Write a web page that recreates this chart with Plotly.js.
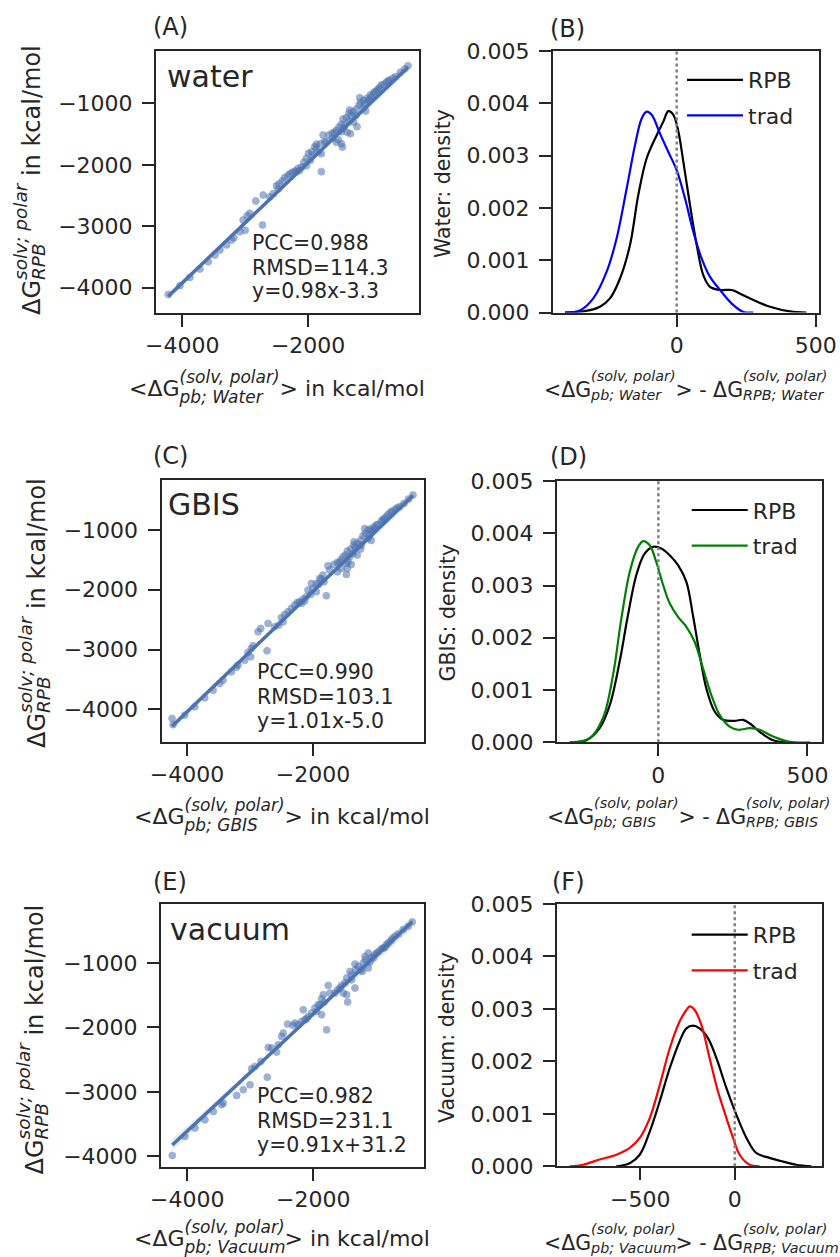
<!DOCTYPE html>
<html>
<head>
<meta charset="utf-8">
<script src="https://cdn.plot.ly/plotly-3.0.1.min.js"></script>
<style>html,body{margin:0;padding:0;background:#fff;}#chart{width:840px;height:1257px;}</style>
</head>
<body>
<div id="chart"></div>
<script>
// ---------------- data ----------------
const waterX = [-413,-466,-535,-609,-731,-799,-863,-905,-958,-1011,-1064,-1117,-1164,-1191,-1101,-1043,-1127,-1085,-1233,-1286,-1339,-1313,-1392,-1445,-1350,-1276,-1223,-1471,-1508,-1551,-1434,-1381,-1328,-1614,-1667,-1762,-1614,-1551,-1471,-1455,-1519,-1709,-1805,-1868,-1868,-1836,-1789,-1921,-1995,-2027,-1963,-2069,-2027,-2101,-2133,-2185,-2249,-2291,-2323,-2376,-1789,-2408,-2460,-2503,-2476,-2556,-2609,-2714,-2831,-2926,-2968,-3032,-2725,-3000,-3085,-3180,-3217,-3296,-3402,-3481,-3587,-3720,-3878,-4037,-4222,-837,-889,-942,-995,-1180,-1244,-1418,-1577,-1736,-1895,-1947,-2159,-2212,-704,-651,-757,-1022,-1350,-1471];
const waterY = [-384,-438,-492,-563,-633,-688,-742,-796,-834,-862,-916,-948,-981,-1024,-1014,-959,-1068,-1122,-1090,-1133,-1106,-1198,-1231,-1252,-1285,-1307,-1377,-1339,-1383,-1437,-1405,-1470,-1491,-1481,-1513,-1513,-1567,-1633,-1654,-1709,-1589,-1622,-1654,-1665,-1730,-1785,-1817,-1839,-1812,-1893,-1926,-1958,-2013,-2034,-2089,-2110,-2121,-2143,-2176,-2208,-2110,-2262,-2306,-2338,-2393,-2469,-2523,-2491,-2588,-2789,-2827,-2898,-2979,-3066,-3088,-3186,-3224,-3305,-3386,-3468,-3577,-3696,-3832,-3967,-4109,-699,-764,-807,-889,-905,-1198,-1350,-1470,-1622,-1703,-1785,-2056,-2100,-617,-590,-655,-943,-1160,-1459];

const gbisX = [-413,-482,-556,-625,-747,-810,-874,-916,-969,-1032,-1085,-1127,-1170,-1207,-1101,-1064,-1127,-1075,-1244,-1297,-1350,-1328,-1403,-1455,-1365,-1297,-1244,-1487,-1524,-1561,-1445,-1392,-1455,-1614,-1667,-1762,-1614,-1551,-1471,-1842,-1868,-1826,-1910,-2027,-2000,-1947,-2080,-2037,-2106,-1789,-2133,-2185,-2249,-2291,-2344,-2397,-2450,-2503,-2476,-2545,-2609,-2714,-2831,-2873,-2952,-2979,-3032,-2730,-2990,-3085,-3191,-3217,-3296,-3429,-3481,-3587,-3720,-3878,-4037,-4238,-4222,-837,-889,-995,-1180,-1233,-1418,-1577,-1736,-1895,-1947,-2159,-2212,-694,-662,-768,-1022,-1350,-1471];
const gbisY = [-414,-481,-554,-609,-682,-738,-805,-849,-905,-944,-983,-1000,-1056,-1095,-1084,-1028,-1140,-1173,-1168,-1224,-1251,-1296,-1318,-1352,-1391,-1419,-1318,-1419,-1447,-1503,-1531,-1575,-1642,-1542,-1575,-1598,-1698,-1642,-1743,-1754,-1821,-1866,-1910,-1893,-1977,-2033,-2005,-2078,-2117,-2100,-2189,-2228,-2212,-2256,-2312,-2368,-2413,-2469,-2536,-2591,-2619,-2563,-2647,-2703,-2937,-2982,-3049,-3021,-3122,-3178,-3261,-3295,-3373,-3513,-3568,-3680,-3809,-3959,-4099,-4155,-4255,-777,-833,-916,-972,-1251,-1447,-1542,-1670,-1810,-1893,-2156,-2201,-654,-626,-704,-983,-1196,-1558];

const vacX = [-429,-493,-572,-651,-747,-810,-863,-916,-958,-1022,-1075,-1127,-1170,-1207,-1101,-1127,-1223,-1286,-1339,-1328,-1418,-1471,-1392,-1339,-1498,-1551,-1762,-1614,-1524,-1471,-1455,-1657,-1842,-1868,-1826,-1868,-1921,-1974,-2027,-2080,-2159,-2106,-2185,-2291,-2318,-2408,-1789,-2476,-2503,-2556,-2582,-2714,-2831,-2926,-2979,-2730,-3005,-3111,-3217,-3429,-3455,-3587,-3720,-3878,-4037,-4238,-837,-889,-995,-1180,-1244,-1577,-1736,-1895,-1947,-2133,-704,-768,-1048,-1392,-2238,-2662];
const vacY = [-364,-431,-483,-550,-622,-690,-757,-778,-819,-871,-912,-845,-949,-1000,-985,-1078,-1130,-1052,-1016,-1104,-1130,-1233,-1259,-1389,-1311,-1347,-1347,-1414,-1466,-1492,-1606,-1466,-1492,-1554,-1606,-1803,-1647,-1699,-1777,-1829,-1725,-1865,-1906,-1932,-1968,-1948,-2036,-2087,-2139,-2268,-2382,-2310,-2527,-2605,-2641,-2771,-2890,-2967,-3055,-3174,-3200,-3304,-3433,-3562,-3692,-3987,-716,-767,-845,-897,-1104,-1389,-1466,-1647,-1751,-1880,-586,-654,-923,-1181,-1958,-2320];

// regression lines: [slope, intercept]; confidence half-width at [low end, middle, high end]
const fitWater = [0.98, -3.3];
const fitGbis = [1.01, -5.0];
const fitVac = [0.91, 31.2];
const ciHalfWater = [60, 12, 30];
const ciHalfGbis = [60, 12, 30];
const ciHalfVac = [90, 20, 45];
const statsWater = ['PCC=0.988', 'RMSD=114.3', 'y=0.98x-3.3'];
const statsGbis = ['PCC=0.990', 'RMSD=103.1', 'y=1.01x-5.0'];
const statsVac = ['PCC=0.982', 'RMSD=231.1', 'y=0.91x+31.2'];

// KDE curves (density)
const kdeWaterRpbX = [-402,-336,-276,-240,-204,-168,-138,-108,-72,-48,-30,-12,6,24,48,72,96,120,156,198,228,276,336,408,467];
const kdeWaterRpbY = [0,0.00002,0.00011,0.00027,0.00065,0.00129,0.00225,0.00295,0.00339,0.00365,0.00385,0.00378,0.00346,0.00288,0.00205,0.00129,0.00071,0.00049,0.00043,0.00043,0.00036,0.00024,0.00011,0.00002,0];
const kdeWaterTradX = [-402,-348,-300,-252,-216,-180,-150,-126,-108,-90,-60,-30,0,30,60,90,120,156,198,240,276];
const kdeWaterTradY = [0,0.00004,0.00027,0.00078,0.00142,0.00237,0.0032,0.00371,0.00384,0.00378,0.00342,0.00307,0.00272,0.00218,0.00154,0.00103,0.00068,0.00043,0.00017,0.00001,0];

const kdeGbisRpbX = [-297,-241,-197,-163,-130,-102,-74,-46,-18,10,38,66,94,116,139,161,189,217,256,284,307,340,385,430];
const kdeGbisRpbY = [0,0.00004,0.00027,0.00071,0.00154,0.00243,0.0032,0.00361,0.00374,0.00371,0.00358,0.00339,0.00307,0.00243,0.00167,0.00103,0.00059,0.00043,0.00041,0.00043,0.00036,0.0002,0.00004,0];
const kdeGbisTradX = [-297,-230,-186,-152,-124,-96,-68,-51,-29,-7,16,38,66,94,122,150,178,206,239,268,307,340,385,441,508];
const kdeGbisTradY = [0,0.00008,0.00046,0.00129,0.00237,0.00326,0.00374,0.00385,0.00377,0.00345,0.00301,0.00266,0.0024,0.00221,0.00192,0.00141,0.0009,0.00052,0.0003,0.00024,0.00027,0.00024,0.00011,0.00001,0];

const kdeVacRpbX = [-627,-556,-503,-450,-397,-344,-292,-256,-221,-186,-141,-97,-44,9,62,115,185,256,326,406];
const kdeVacRpbY = [0,0.00006,0.00022,0.00066,0.00124,0.00187,0.00238,0.00263,0.00268,0.00263,0.00244,0.00206,0.00149,0.00098,0.00054,0.00025,0.00016,0.00009,0.00003,0];
const kdeVacTradX = [-874,-803,-715,-627,-556,-503,-450,-397,-344,-292,-256,-238,-212,-177,-133,-89,-44,-9,26,79,132];
const kdeVacTradY = [0,0.00003,0.00013,0.00022,0.00035,0.00054,0.00092,0.00155,0.00225,0.00276,0.00298,0.00305,0.00298,0.0027,0.00206,0.00143,0.00092,0.00054,0.00022,0.00003,0];

const legendNames = ['RPB', 'trad'];
const tradColors = ['#0000ff', '#008000', '#ff0000'];

// ---------------- layout helpers ----------------
const W = 840, H = 1257;
const FONT = 'DejaVu Sans, sans-serif';
const TXT = '#262626';
const PT = '#4c72b0';
const px = v => v / W;
const py = v => 1 - v / H;
const domX = (a, b) => [a / W, b / W];
const domY = (top, bottom) => [1 - bottom / H, 1 - top / H];

const axBase = (isY) => ({
  showline: true, mirror: true, linecolor: TXT, linewidth: 2,
  ticks: 'outside', ticklen: 12, tickwidth: 2, tickcolor: TXT,
  ticklabelstandoff: isY ? 5 : 0,
  showgrid: false, zeroline: false,
  tickfont: {family: FONT, size: 22, color: TXT}
});

function scatterTraces(xs, ys, fit, ci, xa, ya) {
  const xmin = Math.min(...xs), xmax = Math.max(...xs), xmid = (xmin + xmax) / 2;
  const f = x => fit[0] * x + fit[1];
  const bx = [xmin, xmid, xmax, xmax, xmid, xmin];
  const by = [f(xmin) + ci[0], f(xmid) + ci[1], f(xmax) + ci[2], f(xmax) - ci[2], f(xmid) - ci[1], f(xmin) - ci[0]];
  return [
    {type: 'scatter', mode: 'markers', x: xs, y: ys, xaxis: xa, yaxis: ya, showlegend: false,
     marker: {color: PT, size: 7, opacity: 0.55, line: {width: 0.8, color: PT}}, hoverinfo: 'skip'},
    {type: 'scatter', mode: 'lines', x: bx, y: by, xaxis: xa, yaxis: ya, showlegend: false,
     fill: 'toself', fillcolor: 'rgba(76,114,176,0.15)', line: {width: 0, shape: 'spline'}, hoverinfo: 'skip'},
    {type: 'scatter', mode: 'lines', x: [xmin, xmax], y: [f(xmin), f(xmax)],
     xaxis: xa, yaxis: ya, showlegend: false, line: {color: PT, width: 3.5}, hoverinfo: 'skip'}
  ];
}
function kdeTraces(rx, ry, tx, ty, col, xa, ya, leg) {
  return [
    {type: 'scatter', mode: 'lines', x: rx, y: ry, xaxis: xa, yaxis: ya, name: legendNames[0],
     legend: leg, legendgroup: leg + 'a', line: {color: '#000000', width: 2.2, shape: 'spline', smoothing: 1}},
    {type: 'scatter', mode: 'lines', x: tx, y: ty, xaxis: xa, yaxis: ya, name: legendNames[1],
     legend: leg, legendgroup: leg + 'b', line: {color: col, width: 2.2, shape: 'spline', smoothing: 1}}
  ];
}

const data = [].concat(
  scatterTraces(waterX, waterY, fitWater, ciHalfWater, 'x', 'y'),
  kdeTraces(kdeWaterRpbX, kdeWaterRpbY, kdeWaterTradX, kdeWaterTradY, tradColors[0], 'x2', 'y2', 'legend'),
  scatterTraces(gbisX, gbisY, fitGbis, ciHalfGbis, 'x3', 'y3'),
  kdeTraces(kdeGbisRpbX, kdeGbisRpbY, kdeGbisTradX, kdeGbisTradY, tradColors[1], 'x4', 'y4', 'legend2'),
  scatterTraces(vacX, vacY, fitVac, ciHalfVac, 'x5', 'y5'),
  kdeTraces(kdeVacRpbX, kdeVacRpbY, kdeVacTradX, kdeVacTradY, tradColors[2], 'x6', 'y6', 'legend3')
);

// ---------------- annotations ----------------
const anns = [];
function ann(text, x, y, size, opts) {
  anns.push(Object.assign({text: text, xref: 'paper', yref: 'paper', x: px(x), y: py(y),
    xanchor: 'left', yanchor: 'middle', showarrow: false,
    font: {family: FONT, size: size, color: TXT}}, opts || {}));
}
// stacked super/subscripts: one annotation carries the superscript, a second one aligned with it
// carries the subscript (leading text kept invisible so both start at the same x)
const CLR = 'color:rgba(0,0,0,0)';
const HID = s => `<span style="${CLR}">${s}</span>`;
const SUPS = (s, p, up) => `<sup><span style="font-size:${p}px;baseline-shift:${up}px"><i>${s}</i></span></sup>`;
const SUBS = (s, p, dn) => `<sub><span style="font-size:${p}px;baseline-shift:${-dn}px"><i>${s}</i></span></sub>`;
const HSUPS = (p, up) => `<sup><span style="font-size:${p}px;baseline-shift:${up}px;${CLR}">x</span></sup>`;
const HSUBS = (p, dn) => `<sub><span style="font-size:${p}px;baseline-shift:${-dn}px;${CLR}">x</span></sub>`;
const KUP = 7, KDN = -1;
const SUP7 = s => `<sup><span style="baseline-shift:${KUP}px"><i>${s}</i></span></sup>`;
const SUB7 = s => `<sub><span style="baseline-shift:${-KDN}px"><i>${s}</i></span></sub>`;
const HSUP7 = s => `<sup><span style="baseline-shift:${KUP}px;${CLR}"><i>${s}</i></span></sup>`;
const HSUB7 = `<sub><span style="baseline-shift:${-KDN}px;${CLR}">x</span></sub>`;

// panel letters
[['(A)',151,27.4],['(B)',548,29],['(C)',151,455.7],['(D)',548,457.4],['(E)',151,882.4],['(F)',549.7,882.4]]
  .forEach(p => ann(p[0], p[1], p[2], 24));
// in-panel labels
ann('water', 164.7, 76.3, 30);
ann('GBIS', 166.3, 504.6, 30);
ann('vacuum', 168, 929.3, 30);
// stats
[[statsWater, 249.7, [242.9, 267.9, 291.2]], [statsGbis, 254.7, [672, 697.2, 721.2]], [statsVac, 254.7, [1095.9, 1120.9, 1144.9]]]
  .forEach(s => s[0].forEach((t, i) => ann(t, s[1], s[2][i], 20.5)));

// scatter y titles
const YT = 24, YTS = 18.5, YUP = 3, YDN = 0;
function scatterYTitle(xc, ybot) {
  const o = {textangle: -90, xanchor: 'center', yanchor: 'bottom'};
  ann(`ΔG${SUPS('solv; polar', YTS, YUP)} in kcal/mol${HSUBS(YTS, YDN)}`, xc, ybot, YT, o);
  ann(`${HID('ΔG')}${SUBS('RPB', YTS, YDN)}${HSUPS(YTS, YUP)}`, xc, ybot, YT, o);
}
scatterYTitle(29.5, 317);
scatterYTitle(34.5, 750);
scatterYTitle(32, 1177);

// scatter x titles
const XT = 22, XTS = 17, XUP = 4, XDN = 2;
function scatterXTitle(x0, yc, solv) {
  ann(`&lt;ΔG${SUPS('(solv, polar)', XTS, XUP)}&gt; in kcal/mol${HSUBS(XTS, XDN)}`, x0, yc, XT);
  ann(`${HID('&lt;ΔG')}${SUBS('pb; ' + solv, XTS, XDN)}${HSUPS(XTS, XUP)}`, x0, yc, XT);
}
scatterXTitle(127, 387, 'Water');
scatterXTitle(132, 815, 'GBIS');
scatterXTitle(132, 1236.5, 'Vacuum');

// KDE x titles
const KT = 20.5;
function kdeXTitle(x0, yc, solv) {
  ann(`&lt;ΔG${SUP7('(solv, polar)')}&gt; - ΔG${SUP7('(solv, polar)')}${HSUB7}`, x0, yc, KT);
  ann(`${HID('&lt;ΔG')}${SUB7('pb; ' + solv)}${HSUP7('x')}`, x0, yc, KT);
  ann(`${HID('&lt;ΔG')}${HSUP7('(solv, polar)')}${HID('&gt; - ΔG')}${SUB7('RPB; ' + solv)}`, x0, yc, KT);
}
kdeXTitle(542, 385, 'Water');
kdeXTitle(545, 812.6, 'GBIS');
kdeXTitle(542, 1238.8, 'Vacuum');

// KDE y titles
ann('Water: density', 443, 184, 20.5, {textangle: -90, xanchor: 'center'});
ann('GBIS: density', 447, 612.5, 20.5, {textangle: -90, xanchor: 'center'});
ann('Vacuum: density', 447, 1038, 20.5, {textangle: -90, xanchor: 'center'});

// dotted zero lines
const shapes = ['2', '4', '6'].map(k => ({type: 'line', xref: 'x' + k, yref: 'y' + k + ' domain',
  x0: 0, x1: 0, y0: 0, y1: 1, line: {color: '#808080', width: 2.5, dash: 'dot'}}));

function legendCfg(x, y) {
  return {x: px(x), y: py(y), xanchor: 'left', yanchor: 'top', bgcolor: 'rgba(0,0,0,0)',
    borderwidth: 0, font: {family: FONT, size: 22, color: TXT}, itemwidth: 56, tracegroupgap: 4};
}

const layout = {
  width: W, height: H, margin: {l: 0, r: 0, t: 0, b: 0},
  paper_bgcolor: '#ffffff', plot_bgcolor: '#ffffff',
  font: {family: FONT, color: TXT, size: 22},
  showlegend: true,
  xaxis:  Object.assign(axBase(false), {domain: domX(156, 419), range: [-4417, -238], tickvals: [-4000, -2000], anchor: 'y'}),
  yaxis:  Object.assign(axBase(true), {domain: domY(50.5, 312.5), range: [-4404, -137], tickvals: [-4000, -3000, -2000, -1000], anchor: 'x'}),
  xaxis2: Object.assign(axBase(false), {domain: domX(553, 819), range: [-445, 512], tickvals: [0, 500], anchor: 'y2'}),
  yaxis2: Object.assign(axBase(true), {domain: domY(51, 312.5), range: [0, 0.005], dtick: 0.001, tick0: 0, tickformat: '.3f', anchor: 'x2'}),
  xaxis3: Object.assign(axBase(false), {domain: domX(161.5, 424), range: [-4406, -238], tickvals: [-4000, -2000], anchor: 'y3'}),
  yaxis3: Object.assign(axBase(true), {domain: domY(480, 742), range: [-4548, -162], tickvals: [-4000, -3000, -2000, -1000], anchor: 'x3'}),
  xaxis4: Object.assign(axBase(false), {domain: domX(557, 822), range: [-340, 549], tickvals: [0, 500], anchor: 'y4'}),
  yaxis4: Object.assign(axBase(true), {domain: domY(481, 742.3), range: [0, 0.005], dtick: 0.001, tick0: 0, tickformat: '.3f', anchor: 'x4'}),
  xaxis5: Object.assign(axBase(false), {domain: domX(161, 424), range: [-4417, -243], tickvals: [-4000, -2000], anchor: 'y5'}),
  yaxis5: Object.assign(axBase(true), {domain: domY(904, 1166.5), range: [-4158, -84], tickvals: [-4000, -3000, -2000, -1000], anchor: 'x5'}),
  xaxis6: Object.assign(axBase(false), {domain: domX(557, 822), range: [-941, 462], tickvals: [-500, 0], anchor: 'y6'}),
  yaxis6: Object.assign(axBase(true), {domain: domY(904, 1166.3), range: [0, 0.005], dtick: 0.001, tick0: 0, tickformat: '.3f', anchor: 'x6'}),
  legend: legendCfg(682, 59),
  legend2: legendCfg(686.7, 489.2),
  legend3: legendCfg(686.7, 913.9),
  annotations: anns,
  shapes: shapes
};

Plotly.newPlot('chart', data, layout, {displayModeBar: false, staticPlot: true});
</script>
</body>
</html>
